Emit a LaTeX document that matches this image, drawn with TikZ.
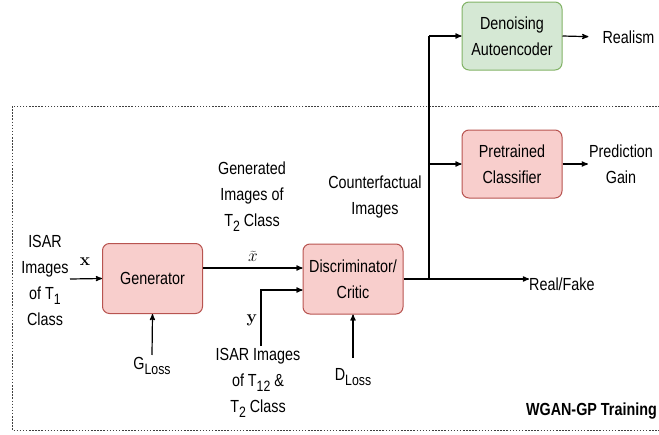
\documentclass[tikz,border=0pt]{standalone}
\usepackage[no-math]{fontspec}
\setmainfont[FakeStretch=0.82]{Liberation Sans}
\usetikzlibrary{positioning,arrows,calc}
\definecolor{redfill}{HTML}{F8CECC}
\definecolor{reddraw}{HTML}{B85450}
\definecolor{greenfill}{HTML}{D5E8D4}
\definecolor{greendraw}{HTML}{82B366}
\newcommand{\lsub}[1]{\raisebox{-0.3em}{\fontsize{15}{15}\selectfont #1}}

\begin{document}
\begin{tikzpicture}[x=1pt,y=-1pt]
                        \tikzstyle{every node}=[font=\fontsize{17.5}{26}\selectfont,inner sep=0,align=center]
                        \tikzstyle{block}=[draw=reddraw,fill=redfill,rounded corners=7,line width=1pt,minimum width=100,minimum height=70]
                        \tikzstyle{greenblock}=[block,draw=greendraw,fill=greenfill,minimum height=68]
                        \tikzstyle{arr}=[->,>=stealth',line width=1.2pt]
                        \tikzstyle{frame}=[draw=black!75,line width=0.8pt,dash pattern=on 1.5pt off 1.6pt]
                        \useasboundingbox (0,0) rectangle (659,434);
                        \clip (0,0) rectangle (659,434);
                        {
                            % training frame
                            \draw[frame] (12,106) rectangle (680,430);
                            \node[anchor=south east,font=\fontsize{17.5}{26}\selectfont\bfseries] (wgan) at (657,419) {WGAN-GP Training};

                            % generator side
                            \node[block] (gen) at (152.5,278.5) {Generator};
                            \node (inT1) at (45,280) {ISAR\\Images\\of T\lsub{1}\\Class};
                            \coordinate (xin) at (70,279);
                            \node (xlab) at (85,262) {$\mathbf{x}$};
                            \node (gloss) at (152,366) {G\lsub{Loss}};
                            \draw[arr] (gloss.north) ++(0,-2) -- (gen.south);
                            \draw[arr] (xin) -- (gen.west);

                            % discriminator side
                            \node[block] (disc) at (353,279) {Discriminator/\\Critic};
                            \node (genT2) at (252,197) {Generated\\Images of\\T\lsub{2} Class};
                            \coordinate (xt) at (250,268);
                            \node (xtl) at (253,256) {$\widetilde{x}$};
                            \draw[arr] (gen.east |- xt) -- (disc.west |- xt);
                            \node (inT12) at (258,383) {ISAR Images\\of T\lsub{12} \&\\T\lsub{2} Class};
                            \coordinate (ysrc) at (261,346);
                            \coordinate (yin) at (261,290);
                            \node (ylab) at (252,320) {$\mathbf{y}$};
                            \draw[arr] (ysrc) |- (disc.west |- yin);
                            \node (dloss) at (353,377) {D\lsub{Loss}};
                            \draw[arr] (dloss.north) ++(0,-10) -- (disc.south);

                            % outputs
                            \node[anchor=west] (realfake) at (529,284) {Real/Fake};
                            \draw[arr] (disc.east) -- (disc.east -| realfake.west);
                            \node (cf) at (375,197) {Counterfactual\\Images};
                            \coordinate (split) at (429,279);
                            \node[greenblock] (dae) at (512,36) {Denoising\\Autoencoder};
                            \node[block,minimum height=68] (pc) at (512,164) {Pretrained\\Classifier};
                            \draw[line width=1.2pt] (split) -- (split |- dae.west);
                            \draw[arr] (split |- dae.west) -- (dae.west);
                            \draw[arr] (split |- pc.west) -- (pc.west);
                            \node (realism) at (628.5,37) {Realism};
                            \draw[arr,shorten >=14] (dae.east) -- (realism.west);
                            \node (pgain) at (621,164) {Prediction\\Gain};
                            \draw[arr,shorten >=1] (pc.east) -- (pc.east -| pgain.west);
                        }
                    \end{tikzpicture}
\end{document}
